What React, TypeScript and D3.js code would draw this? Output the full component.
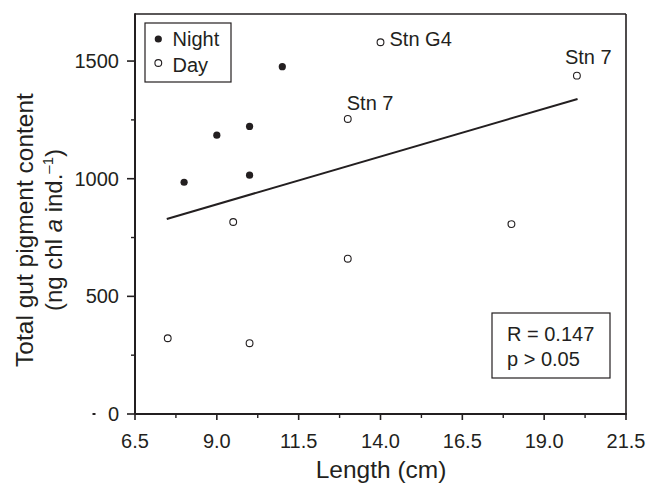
import React from "react";
import * as d3 from "d3";

const nightLength = [8.0, 9.0, 10.0, 10.0, 11.0];
const nightPigment = [985, 1185, 1222, 1015, 1476];
const dayLength = [7.5, 9.5, 10.0, 13.0, 13.0, 14.0, 18.0, 20.0];
const dayPigment = [322, 816, 301, 1254, 660, 1580, 807, 1438];
const stationLabels = [
  { length: 14.0, pigment: 1580, text: "Stn G4", pos: "right" },
  { length: 13.0, pigment: 1254, text: "Stn 7", pos: "above" },
  { length: 20.0, pigment: 1438, text: "Stn 7", pos: "aboveLeft" },
];
const regLength = [7.47, 20.02];
const regPigment = [829, 1339];
const xTicks = [6.5, 9.0, 11.5, 14.0, 16.5, 19.0, 21.5];
const xMinorTicks = [7.75, 10.25, 12.75, 15.25, 17.75, 20.25];
const yTicks = [0, 500, 1000, 1500];
const yMinorTicks = [250, 750, 1250];
const statLines = ["R = 0.147", "p > 0.05"];

const W = 656;
const H = 483;
const L = 135, R = 626, T = 14, B = 414;
const INK = "#231f20";
const FONT = "'Liberation Sans', Arial, Helvetica, sans-serif";

export default function App() {
  const x = d3.scaleLinear().domain([6.5, 21.5]).range([L, R]);
  const y = d3.scaleLinear().domain([0, 1700]).range([B, T]);
  const line = d3
    .line<number>()
    .x((_, i) => x(regLength[i]))
    .y((d) => y(d));

  return (
    <svg
      width={W}
      height={H}
      style={{ position: "absolute", left: 0, top: 0, background: "#fff" }}
      fontFamily={FONT}
    >
      <rect x={0} y={0} width={W} height={H} fill="#fff" />
      {/* frame */}
      <line x1={L} y1={T} x2={R} y2={T} stroke={INK} strokeWidth={1.6} />
      <line x1={R} y1={T} x2={R} y2={B} stroke={INK} strokeWidth={1.6} />
      <line x1={L} y1={T - 0.8} x2={L} y2={B} stroke={INK} strokeWidth={2} />
      <line x1={L} y1={B} x2={R + 0.8} y2={B} stroke={INK} strokeWidth={2} />

      {/* x ticks */}
      {xTicks.map((t) => (
        <g key={"xt" + t}>
          <line x1={x(t)} x2={x(t)} y1={B} y2={B + 6} stroke={INK} strokeWidth={1.6} />
          <text x={x(t)} y={448} textAnchor="middle" fontSize={20} fill={INK}>
            {t.toFixed(1)}
          </text>
        </g>
      ))}
      {xMinorTicks.map((t) => (
        <line key={"xm" + t} x1={x(t)} x2={x(t)} y1={B} y2={B + 4} stroke={INK} strokeWidth={1.4} />
      ))}

      {/* y ticks */}
      {yTicks.map((t) => (
        <g key={"yt" + t}>
          <line x1={L - 8} x2={L} y1={y(t)} y2={y(t)} stroke={INK} strokeWidth={1.6} />
          <text x={119} y={y(t) + 7} textAnchor="end" fontSize={20} fill={INK}>
            {t}
          </text>
        </g>
      ))}
      {yMinorTicks.map((t) => (
        <line key={"ym" + t} x1={L - 4} x2={L} y1={y(t)} y2={y(t)} stroke={INK} strokeWidth={1.4} />
      ))}
      <line x1={92.5} x2={95.5} y1={y(0)} y2={y(0)} stroke={INK} strokeWidth={2} />

      {/* axis titles */}
      <text x={381} y={478} textAnchor="middle" fontSize={24.5} fill={INK}>
        Length (cm)
      </text>
      <g transform="translate(33,230) rotate(-90)">
        <text x={0} y={0} textAnchor="middle" fontSize={24.5} fill={INK}>
          Total gut pigment content
        </text>
      </g>
      <g transform="translate(62,230) rotate(-90)">
        <text x={0} y={0} textAnchor="middle" fontSize={24} fill={INK}>
          (ng chl <tspan fontStyle="italic">a</tspan> ind.
          <tspan dy={-9} fontSize={15}>–1</tspan>
          <tspan dy={9}>)</tspan>
        </text>
      </g>

      {/* regression line */}
      <path d={line(regPigment) || ""} fill="none" stroke={INK} strokeWidth={2} />

      {/* points */}
      {nightLength.map((v, i) => (
        <circle key={"n" + i} cx={x(v)} cy={y(nightPigment[i])} r={3.6} fill={INK} />
      ))}
      {dayLength.map((v, i) => (
        <circle
          key={"d" + i}
          cx={x(v)}
          cy={y(dayPigment[i])}
          r={3.4}
          fill="#fff"
          stroke={INK}
          strokeWidth={1.1}
        />
      ))}

      {/* station labels */}
      {stationLabels.map((s, i) => {
        const px = x(s.length);
        const py = y(s.pigment);
        let tx = px, ty = py, anchor = "start";
        if (s.pos === "right") { tx = px + 9; ty = py + 4; }
        else if (s.pos === "above") { tx = px - 1; ty = py - 9; }
        else { tx = px - 12; ty = py - 12; }
        return (
          <text key={"s" + i} x={tx} y={ty} textAnchor={anchor} fontSize={20} fill={INK}>
            {s.text}
          </text>
        );
      })}

      {/* legend */}
      <rect x={145} y={23} width={86} height={59} fill="#fff" stroke={INK} strokeWidth={1.2} />
      <circle cx={158.3} cy={39} r={3.6} fill={INK} />
      <text x={172.5} y={45.7} fontSize={20} fill={INK}>Night</text>
      <circle cx={158.3} cy={63} r={3.4} fill="#fff" stroke={INK} strokeWidth={1.1} />
      <text x={172.5} y={71.5} fontSize={20} fill={INK}>Day</text>

      {/* stats box */}
      <rect x={492} y={313} width={118} height={65} fill="#fff" stroke={INK} strokeWidth={1.2} />
      {statLines.map((s, i) => (
        <text key={"st" + i} x={507} y={341 + i * 25} fontSize={20} fill={INK}>
          {s}
        </text>
      ))}
    </svg>
  );
}
